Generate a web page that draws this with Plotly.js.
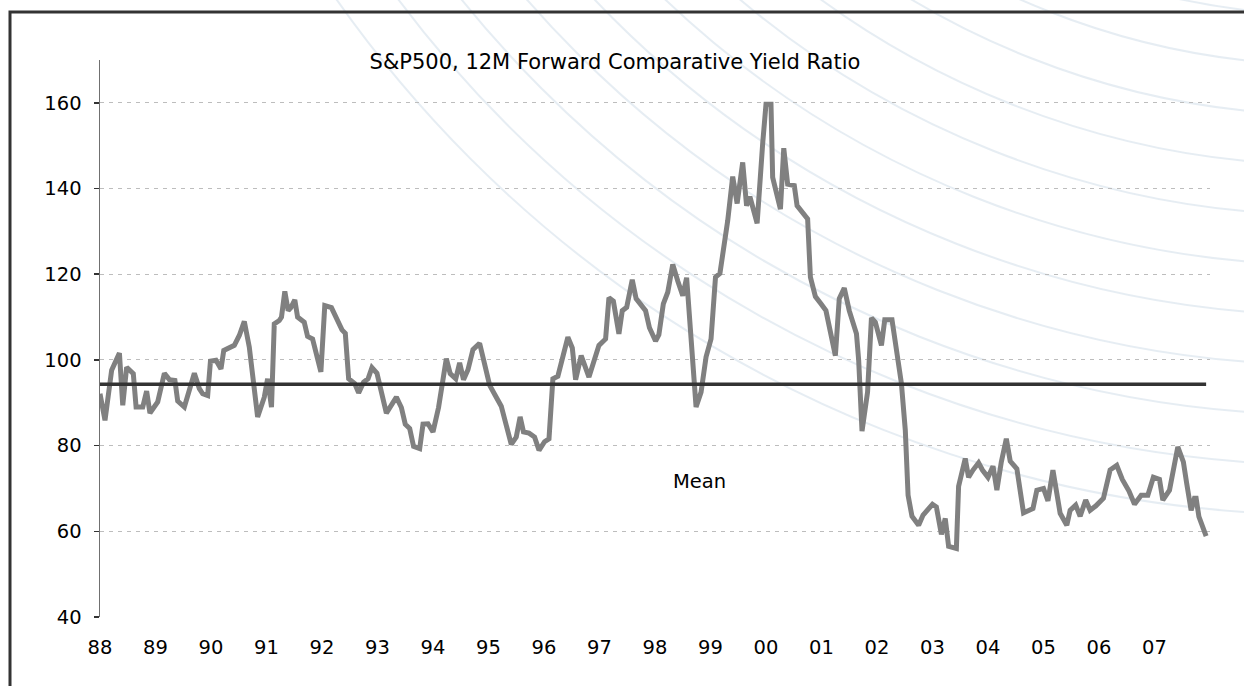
<!DOCTYPE html>
<html>
<head>
<meta charset="utf-8">
<script src="https://cdn.plot.ly/plotly-3.0.1.min.js"></script>
<style>html,body{margin:0;padding:0;background:#fff;}#chart{width:1244px;height:686px;}</style>
</head>
<body>
<div id="chart"></div>
<script>
// ---- data ----
const dates = [
1988.00,1988.09,1988.21,1988.35,1988.41,1988.48,1988.60,1988.65,1988.77,1988.84,1988.90,
1989.04,1989.16,1989.25,1989.35,1989.40,1989.52,1989.70,1989.79,1989.85,1989.94,1989.99,
1990.09,1990.18,1990.23,1990.33,1990.42,1990.51,1990.60,1990.69,1990.84,1990.96,
1991.02,1991.09,1991.14,1991.23,1991.27,1991.33,1991.39,1991.44,1991.51,1991.56,1991.68,1991.74,1991.83,1991.98,
1992.05,1992.17,1992.26,1992.36,1992.42,1992.48,1992.59,1992.66,1992.75,1992.83,1992.90,1992.99,
1993.16,1993.34,1993.43,1993.50,1993.58,1993.65,1993.76,1993.82,1993.91,
1994.00,1994.10,1994.24,1994.31,1994.41,1994.48,1994.55,1994.63,1994.72,1994.84,1994.93,
1995.02,1995.11,1995.23,1995.41,1995.50,1995.57,1995.63,1995.73,1995.83,1995.91,
1996.01,1996.09,1996.16,1996.25,1996.43,1996.51,1996.57,1996.67,1996.81,1996.99,
1997.11,1997.17,1997.25,1997.35,1997.41,1997.49,1997.59,1997.66,1997.83,1997.90,
1998.01,1998.07,1998.15,1998.23,1998.32,1998.41,1998.50,1998.57,1998.67,1998.74,1998.83,1998.92,
1999.01,1999.09,1999.17,1999.25,1999.31,1999.40,1999.48,1999.58,1999.65,1999.71,1999.76,1999.84,1999.94,
2000.00,2000.09,2000.12,2000.26,2000.32,2000.39,2000.51,2000.56,2000.66,2000.75,2000.80,2000.89,2000.99,
2001.08,2001.25,2001.32,2001.41,2001.50,2001.63,2001.67,2001.73,2001.83,2001.90,2001.97,
2002.08,2002.14,2002.27,2002.33,2002.44,2002.51,2002.56,2002.63,2002.75,2002.83,
2003.00,2003.07,2003.16,2003.23,2003.29,2003.43,2003.47,2003.59,2003.65,2003.73,2003.83,2003.90,
2004.00,2004.09,2004.16,2004.24,2004.33,2004.40,2004.52,2004.64,2004.81,2004.88,
2005.00,2005.08,2005.17,2005.30,2005.42,2005.48,2005.58,2005.66,2005.76,2005.84,2005.94,
2006.08,2006.20,2006.32,2006.42,2006.54,2006.64,2006.76,2006.88,2006.98,
2007.09,2007.15,2007.27,2007.42,2007.52,2007.58,2007.66,2007.72,2007.75,2007.80,2007.93
];
const ratio = [
92.1,85.9,97.6,101.6,89.4,98.3,96.8,89.0,89.0,92.7,87.6,
90.2,96.9,95.4,95.2,90.4,89.0,96.9,93.3,92.1,91.7,99.7,
99.9,97.9,102.2,103.0,103.4,105.7,109.0,103.0,86.7,91.3,
95.6,89.0,108.4,109.2,110.0,116.0,111.5,112.2,114.0,110.0,108.8,105.5,104.9,97.2,
112.7,112.2,109.6,107.0,106.2,95.6,94.5,92.3,94.8,95.6,98.2,96.9,
87.6,91.3,88.9,85.0,84.0,79.8,79.3,85.0,85.1,
83.2,88.9,100.3,96.8,95.6,99.3,95.4,97.7,102.4,103.9,98.3,
94.1,92.0,89.2,80.3,82.0,86.7,83.2,82.9,82.0,78.9,
80.9,81.6,95.6,96.2,105.3,102.8,95.4,101.0,96.0,103.4,
104.9,114.5,113.7,106.1,111.5,112.3,118.7,114.3,111.5,107.5,
104.4,105.9,113.1,115.8,122.3,118.4,115.0,119.2,100.7,89.0,92.5,100.7,
104.9,119.3,120.2,126.5,132.5,142.8,136.5,146.1,136.0,138.1,136.0,131.9,150.5,
159.7,159.7,142.6,135.2,149.4,141.0,140.7,136.0,134.4,132.9,119.3,114.8,113.1,
111.5,101.0,114.3,116.8,111.5,106.1,99.9,83.4,92.5,109.8,108.8,
103.4,109.4,109.4,104.5,94.5,83.6,68.4,63.5,61.4,63.8,
66.3,65.7,59.3,63.0,56.5,56.0,70.5,77.0,72.6,74.3,76.0,74.3,
72.6,75.2,69.6,76.2,81.6,76.4,74.6,64.3,65.3,69.6,
70.0,67.1,74.3,64.2,61.4,64.9,66.1,63.5,67.3,64.9,65.9,
67.7,74.3,75.4,72.1,69.4,66.3,68.4,68.4,72.6,
72.1,67.3,69.6,79.7,76.2,71.2,64.9,67.7,67.7,63.4,58.9
];
const meanValue = 94.3;
const meanLabel = 'Mean';
const chartTitle = 'S&P500, 12M Forward Comparative Yield Ratio';
const yTickValues = [40, 60, 80, 100, 120, 140, 160];
const xTickYears = [1988,1989,1990,1991,1992,1993,1994,1995,1996,1997,1998,1999,2000,2001,2002,2003,2004,2005,2006,2007];
const xTickLabels = ['88','89','90','91','92','93','94','95','96','97','98','99','00','01','02','03','04','05','06','07'];

// ---- layout geometry (pixels) ----
const W = 1244, H = 686;
const M = {l: 100, r: 34, t: 60, b: 69};
const PW = W - M.l - M.r, PH = H - M.t - M.b;
const px2x = p => (p - M.l) / PW;
const py2y = p => (H - M.b - p) / PH;

const FONT = 'DejaVu Sans, Verdana, sans-serif';

// decorative background arcs
const shapes = [];
const cx = 1330, cy = -700;
for (let r = 715; r <= 1220; r += 50) {
  shapes.push({
    type: 'circle', xref: 'paper', yref: 'paper', layer: 'below',
    x0: px2x(cx - r), x1: px2x(cx + r), y0: py2y(cy + r), y1: py2y(cy - r),
    line: {color: 'rgba(205,220,232,0.5)', width: 2}
  });
}
// outer frame
shapes.push({
  type: 'rect', xref: 'paper', yref: 'paper', layer: 'below',
  x0: px2x(10), x1: px2x(1260), y0: py2y(710), y1: py2y(12),
  line: {color: '#333', width: 3}, fillcolor: 'rgba(0,0,0,0)'
});

const traces = [
  {x: dates, y: ratio, type: 'scatter', mode: 'lines',
   line: {color: '#808080', width: 5}, hoverinfo: 'skip'},
  {x: [dates[0], dates[dates.length - 1]], y: [meanValue, meanValue], type: 'scatter', mode: 'lines',
   line: {color: '#333333', width: 3.5}, hoverinfo: 'skip'}
];

const layout = {
  width: W, height: H,
  margin: {l: M.l, r: M.r, t: M.t, b: M.b, pad: 0},
  paper_bgcolor: '#ffffff', plot_bgcolor: 'rgba(0,0,0,0)',
  showlegend: false,
  font: {family: FONT, size: 19.5, color: '#000'},
  title: {text: chartTitle, xref: 'container', yref: 'container',
          x: 615 / W, xanchor: 'center', y: 1 - 62 / H, yanchor: 'middle',
          font: {family: FONT, size: 21, color: '#000'}},
  xaxis: {range: [1988, 2008], tickmode: 'array', tickvals: xTickYears, ticktext: xTickLabels,
          showgrid: false, zeroline: false, showline: false, ticks: '',
          tickfont: {family: FONT, size: 19.5, color: '#000'}, ticklabelstandoff: 16, fixedrange: true},
  yaxis: {range: [40, 170], tickmode: 'array', tickvals: yTickValues,
          showgrid: true, gridcolor: '#bdbdbd', gridwidth: 1, griddash: '4px,5px',
          zeroline: false, showline: true, linecolor: '#707070', linewidth: 1.5,
          ticks: 'outside', ticklen: 5, tickwidth: 1.5, tickcolor: '#333',
          tickfont: {family: FONT, size: 19.5, color: '#000'}, ticklabelstandoff: 8, fixedrange: true},
  annotations: [{text: meanLabel, xref: 'x', yref: 'y', x: 1998.81, y: 71.7,
                 showarrow: false, xanchor: 'center', yanchor: 'middle',
                 font: {family: FONT, size: 19.5, color: '#000'}}],
  shapes: shapes
};

Plotly.newPlot('chart', traces, layout, {staticPlot: true, displayModeBar: false});
</script>
</body>
</html>
